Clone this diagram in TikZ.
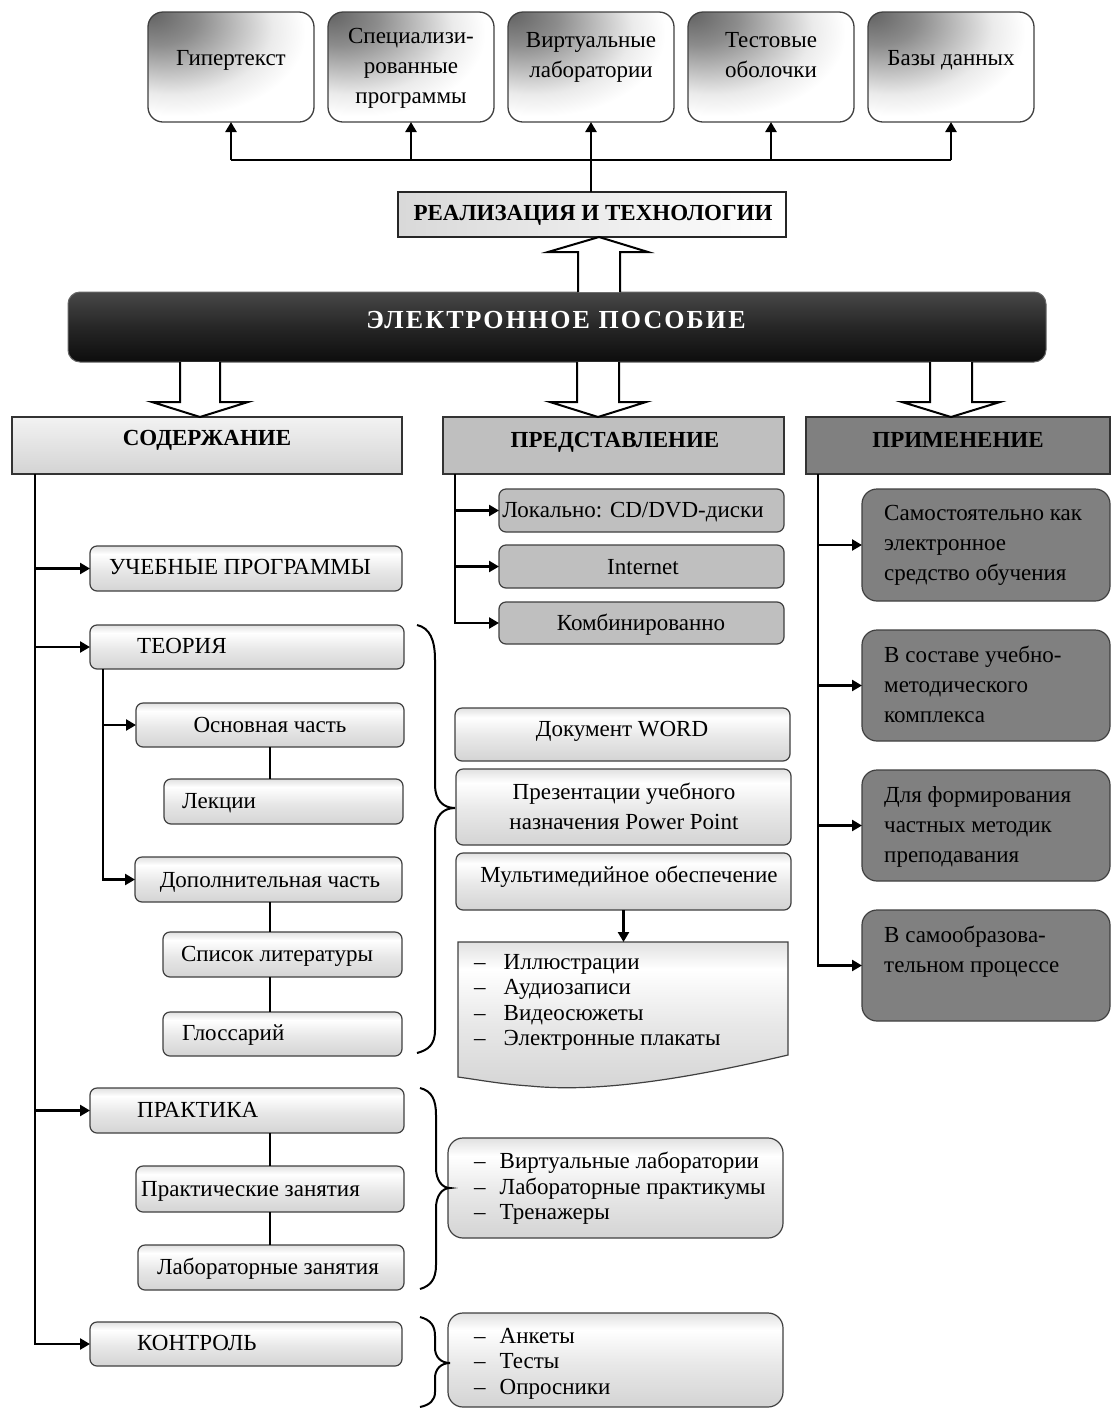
\documentclass[tikz,border=0pt]{standalone}
\usepackage{fontspec}
\setmainfont{Liberation Serif}
\usetikzlibrary{arrows.meta,calc}
\pgfdeclareradialshading{tlrad}{\pgfpoint{-25bp}{25bp}}{color(0bp)=(black!62); color(12bp)=(black!45); color(30bp)=(black!8); color(38bp)=(white); color(100bp)=(white)}
\pgfdeclareverticalshading{lgrad}{100bp}{color(0bp)=(black!17); color(25bp)=(black!17); color(48bp)=(black!9); color(66bp)=(white); color(75bp)=(black!12); color(100bp)=(black!12)}
\pgfdeclareverticalshading{dgrad}{100bp}{color(0bp)=(black!95); color(25bp)=(black!95); color(50bp)=(black!85); color(75bp)=(black!72); color(100bp)=(black!72)}
\newcommand\nf{\fontsize{23}{30}\selectfont}
\newcommand\mkbox[6]{\node[#1, minimum width={#5-#3}, minimum height={#6-#4}] (#2) at (#3,#4) {};}
\tikzset{
  base/.style={anchor=north west, inner sep=0pt, outer sep=0pt},
  conn/.style={line width=2.4pt, black},
  arr/.style={conn, -{Triangle[length=10pt,width=11pt]}},
  tb/.style={base, rounded corners=15pt, draw=black!75, line width=1.3pt, shading=tlrad},
  lb/.style={base, rounded corners=7pt, draw=black!75, line width=1.2pt, shading=lgrad},
  bigl/.style={base, rounded corners=15pt, draw=black!75, line width=1.2pt, shading=lgrad},
  gb/.style={base, rounded corners=7pt, draw=black!75, line width=1.2pt, fill=black!25},
  db/.style={base, rounded corners=15pt, draw=black!75, line width=1.2pt, fill=black!50},
  hd/.style={base, draw=black!80, line width=1.2pt},
  rb/.style={base, draw=black!85, line width=1.3pt, left color=black!15, middle color=black!30, right color=white},
  mainb/.style={base, rounded corners=12pt, draw=black!60, line width=1pt, shading=dgrad},
  txt/.style={inner sep=0pt, font=\nf, text height=20pt, text depth=3pt},
  mtxt/.style={inner sep=0pt, font=\nf, align=center},
  ltxt/.style={inner sep=0pt, font=\nf, align=left, anchor=north west},
  listtxt/.style={inner sep=0pt, font=\fontsize{23}{25.5}\selectfont, align=left, anchor=north west},
  btxt/.style={inner sep=0pt, font=\fontsize{23}{26}\selectfont\bfseries, text height=20pt, text depth=3pt},
  hollow/.style={draw=black, line width=2pt, fill=white, line join=miter},
  brace/.style={draw=black, line width=2pt}
}
\newcommand\hdown[6]{\draw[hollow] ({#1-#5},#2) -- ({#1-#5},#3) -- ({#1-#6},#3) -- (#1,#4) -- ({#1+#6},#3) -- ({#1+#5},#3) -- ({#1+#5},#2);}
\begin{document}
\begin{tikzpicture}[x=1pt,y=-1pt]
\useasboundingbox[fill=white] (0,0) rectangle (1111,1409);
% top boxes
\mkbox{tb}{b1}{148}{12}{314}{122}
\mkbox{tb}{b2}{328}{12}{494}{122}
\mkbox{tb}{b3}{508}{12}{674}{122}
\mkbox{tb}{b4}{688}{12}{854}{122}
\mkbox{tb}{b5}{868}{12}{1034}{122}
\node[txt] (tb1) at (231,57) {Гипертекст};
\node[mtxt] (tb2) at (411,68) {Специализи-\\рованные\\программы};
\node[mtxt] (tb3) at (591,57) {Виртуальные\\лаборатории};
\node[mtxt] (tb4) at (771,55) {Тестовые\\оболочки};
\node[txt] (tb5) at (951,57) {Базы данных};
% realization
\mkbox{rb}{real}{398}{192}{786}{237}
\node[btxt] (treal) at (593,212) {РЕАЛИЗАЦИЯ И ТЕХНОЛОГИИ};
\coordinate (H) at (591,160);
\draw[conn] (H -| b1.south) -- (H -| b5.south);
\draw[conn] (real.north -| H) -- (H);
\foreach \b in {b1,b2,b3,b4,b5} \draw[arr] (H -| \b.south) -- (\b.south);
% main
\mkbox{mainb}{main}{68}{292}{1046}{362}
\node[inner sep=0pt, text=white, font=\fontsize{26}{30}\selectfont\bfseries\addfontfeature{LetterSpace=8}, text height=18pt, text depth=6pt] (tmain) at (556,322) {ЭЛЕКТРОННОЕ ПОСОБИЕ};
% headers
\mkbox{hd, top color=black!5, bottom color=black!17}{sod}{12}{417}{402}{474}
\mkbox{hd, fill=black!25}{pred}{443}{417}{784}{474}
\mkbox{hd, fill=black!50}{prim}{806}{417}{1110}{474}
\node[btxt] (tsod) at (207,437) {СОДЕРЖАНИЕ};
\node[btxt] (tpred) at (615,439) {ПРЕДСТАВЛЕНИЕ};
\node[btxt] (tprim) at (958,439) {ПРИМЕНЕНИЕ};
% hollow arrows
\draw[hollow] (578,292) -- (578,252) -- (548,252) -- (599,237) -- (648,252) -- (620,252) -- (620,292);
\hdown{200}{362}{402}{417}{20}{48}
\hdown{598}{362}{402}{417}{21}{48}
\hdown{951}{362}{402}{417}{21}{49}
% left column boxes
\mkbox{lb}{up}{90}{546}{402}{591}
\mkbox{lb}{teo}{90}{625}{404}{669}
\mkbox{lb}{osn}{136}{703}{404}{747}
\mkbox{lb}{lek}{164}{779}{403}{824}
\mkbox{lb}{dop}{135}{857}{402}{902}
\mkbox{lb}{spis}{163}{932}{402}{977}
\mkbox{lb}{glos}{163}{1012}{402}{1056}
\mkbox{lb}{prak}{90}{1088}{404}{1133}
\mkbox{lb}{prz}{136}{1166}{404}{1212}
\mkbox{lb}{labz}{138}{1245}{404}{1290}
\mkbox{lb}{kon}{90}{1322}{402}{1366}
\node[txt] (tup) at (240,566) {УЧЕБНЫЕ ПРОГРАММЫ};
\node[txt, anchor=west] (tteo) at (137,645) {ТЕОРИЯ};
\node[txt] (tosn) at (270,724) {Основная часть};
\node[txt, anchor=west] (tlek) at (182,800) {Лекции};
\node[txt] (tdop) at (270,879) {Дополнительная часть};
\node[txt] (tspis) at (277,953) {Список литературы};
\node[txt, anchor=west] (tglos) at (182,1032) {Глоссарий};
\node[txt, anchor=west] (tprak) at (137,1109) {ПРАКТИКА};
\node[txt, anchor=west] (tprz) at (141,1188) {Практические занятия};
\node[txt] (tlabz) at (268,1266) {Лабораторные занятия};
\node[txt, anchor=west] (tkon) at (137,1342) {КОНТРОЛЬ};
% left connectors
\coordinate (L) at (35,474);
\draw[arr] (L) -- (L |- kon.west) -- (kon.west);
\foreach \b in {up,teo,prak} \draw[arr] (L |- \b.west) -- (\b.west);
\coordinate (T) at (103,669);
\draw[arr] (T) -- (T |- dop.west) -- (dop.west);
\draw[arr] (T |- osn.west) -- (osn.west);
\draw[conn] (osn.south) -- (osn.south |- lek.north);
\draw[conn] (osn.south |- dop.south) -- (osn.south |- spis.north);
\draw[conn] (osn.south |- spis.south) -- (osn.south |- glos.north);
\draw[conn] (prz.north |- prak.south) -- (prz.north);
\draw[conn] (prz.south) -- (prz.south |- labz.north);
% presentation column
\mkbox{gb}{lok}{499}{489}{784}{532}
\mkbox{gb}{inet}{499}{545}{784}{588}
\mkbox{gb}{komb}{499}{602}{784}{644}
\node[txt] (tlok) at (633,509) {Локально: CD/DVD-диски};
\node[txt] (tinet) at (643,566) {Internet};
\node[txt] (tkomb) at (641,622) {Комбинированно};
\coordinate (Pr) at (455,474);
\draw[arr] (Pr) -- (Pr |- komb.west) -- (komb.west);
\foreach \b in {lok,inet} \draw[arr] (Pr |- \b.west) -- (\b.west);
% middle boxes
\mkbox{lb}{word}{455}{708}{790}{761}
\mkbox{lb}{pres}{456}{769}{791}{845}
\mkbox{lb}{mm}{456}{853}{791}{910}
\node[txt] (tword) at (622,728) {Документ WORD};
\node[mtxt] (tpres) at (624,806) {Презентации учебного\\назначения Power Point};
\node[txt] (tmm) at (629,874) {Мультимедийное обеспечение};
\path[draw=black!75, line width=1.2pt, shading=lgrad] (458,942) -- (788,942) -- (788,1055) .. controls (690,1078) and (600,1093) .. (530,1086) .. controls (500,1084) and (480,1080) .. (458,1077) -- cycle;
\coordinate (doctop) at (mm.south |- 0,942);
\draw[arr] (mm.south) -- (doctop);
\node[listtxt] (tdoc) at (474,954) {–\hspace{18pt}Иллюстрации\\–\hspace{18pt}Аудиозаписи\\–\hspace{18pt}Видеосюжеты\\–\hspace{18pt}Электронные плакаты};
% practice/control lists
\mkbox{bigl}{pl}{448}{1138}{783}{1238}
\mkbox{bigl}{kl}{448}{1313}{783}{1407}
\node[listtxt] (tpl) at (474,1152) {–\hspace{14pt}Виртуальные лаборатории\\–\hspace{14pt}Лабораторные практикумы\\–\hspace{14pt}Тренажеры};
\node[listtxt] (tkl) at (474,1328) {–\hspace{14pt}Анкеты\\–\hspace{14pt}Тесты\\–\hspace{14pt}Опросники};
% braces
\draw[brace] (417,625) .. controls (430,628) and (435,640) .. (435,660) -- (435,785) .. controls (435,800) and (443,808) .. (455,808) .. controls (443,808) and (435,816) .. (435,831) -- (435,1030) .. controls (435,1045) and (428,1050) .. (417,1053);
\draw[brace] (420,1088) .. controls (432,1091) and (436,1100) .. (436,1115) -- (436,1168) .. controls (436,1180) and (442,1188) .. (450,1188) .. controls (442,1188) and (436,1196) .. (436,1208) -- (436,1265) .. controls (436,1280) and (430,1286) .. (420,1289);
\draw[brace] (420,1317) .. controls (431,1320) and (435,1326) .. (435,1336) -- (435,1348) .. controls (435,1357) and (441,1363) .. (450,1363) .. controls (441,1363) and (435,1369) .. (435,1378) -- (435,1392) .. controls (435,1400) and (430,1405) .. (420,1407);
% application column
\mkbox{db}{d1}{862}{489}{1110}{601}
\mkbox{db}{d2}{862}{630}{1110}{741}
\mkbox{db}{d3}{862}{770}{1110}{881}
\mkbox{db}{d4}{862}{910}{1110}{1021}
\node[ltxt] (td1) at (884,505) {Самостоятельно как\\электронное\\средство обучения};
\node[ltxt] (td2) at (884,646) {В составе учебно-\\методического\\комплекса};
\node[ltxt] (td3) at (884,786) {Для формирования\\частных методик\\преподавания};
\node[ltxt] (td4) at (884,926) {В самообразова-\\тельном процессе};
\coordinate (R) at (818,474);
\draw[arr] (R) -- (R |- d4.west) -- (d4.west);
\foreach \b in {d1,d2,d3} \draw[arr] (R |- \b.west) -- (\b.west);
\end{tikzpicture}
\end{document}
